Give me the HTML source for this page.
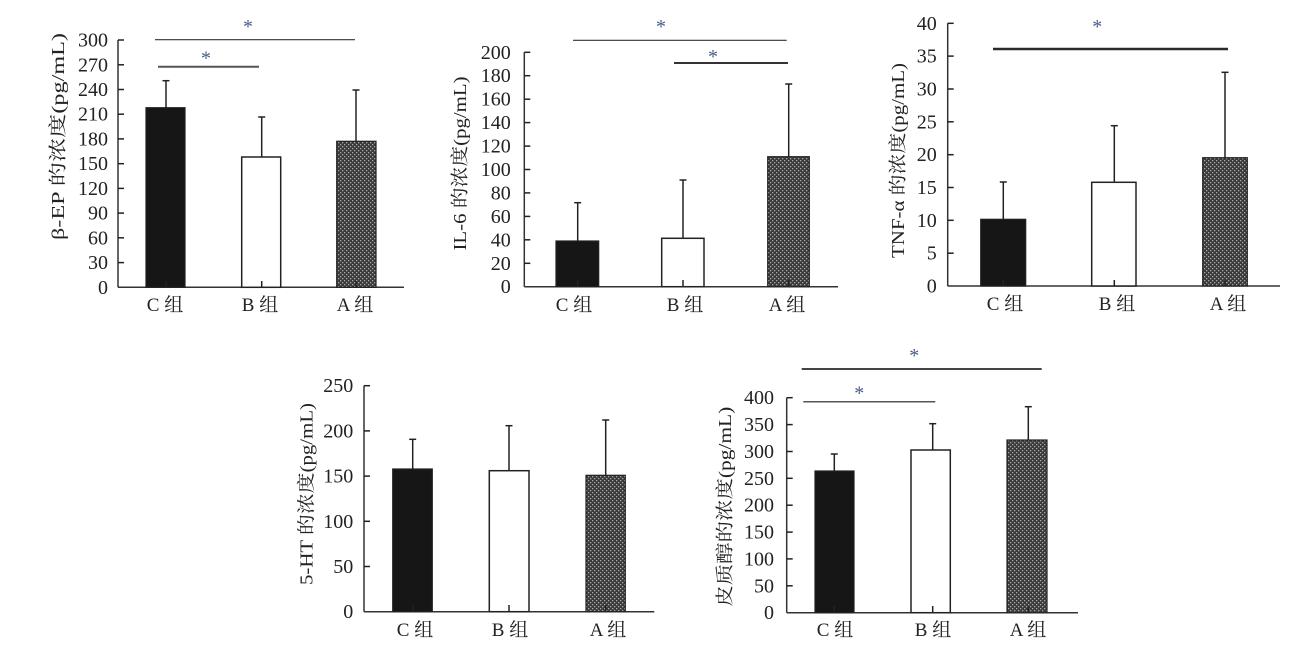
<!DOCTYPE html>
<html><head><meta charset="utf-8"><style>
html,body{margin:0;padding:0;background:#fff;}
svg{display:block;}
text{font-family:"Liberation Serif","Noto Serif CJK SC","Noto Sans CJK SC",serif;fill:#222;}
.t{font-size:20px;text-anchor:end;}
.x{font-size:19px;text-anchor:middle;}
.yt{font-size:18px;text-anchor:middle;dominant-baseline:central;}
.s{font-size:20px;text-anchor:middle;fill:#4a5a8a;}
.ax{stroke:#333;stroke-width:1.5;fill:none;}
.tk{stroke:#222;stroke-width:1.5;}
.eb{stroke:#222;stroke-width:1.5;}
.bc{fill:#161616;stroke:#222;stroke-width:1.2;}
.bb{fill:#fff;stroke:#222;stroke-width:1.5;}
.ba{fill:url(#hp);stroke:#222;stroke-width:1.2;}
</style></head><body>
<svg width="1316" height="652" viewBox="0 0 1316 652" xmlns="http://www.w3.org/2000/svg">
<defs>
<pattern id="hp" width="4" height="4" patternUnits="userSpaceOnUse">
<rect width="4" height="4" fill="#3a3a3a"/>
<rect x="0" y="0" width="1.3" height="1.3" fill="#a8a8a8"/>
<rect x="2" y="2" width="1.3" height="1.3" fill="#a8a8a8"/>
</pattern>
</defs>

<!-- Chart 1 -->
<g>
<line class="ax" x1="118" y1="40" x2="118" y2="287.3"/>
<line class="ax" x1="118" y1="287.3" x2="404" y2="287.3"/>
<g class="tk">
<line x1="118" y1="40" x2="124" y2="40"/><line x1="118" y1="64.8" x2="124" y2="64.8"/><line x1="118" y1="89.5" x2="124" y2="89.5"/><line x1="118" y1="114.2" x2="124" y2="114.2"/><line x1="118" y1="138.9" x2="124" y2="138.9"/><line x1="118" y1="163.7" x2="124" y2="163.7"/><line x1="118" y1="188.4" x2="124" y2="188.4"/><line x1="118" y1="213.1" x2="124" y2="213.1"/><line x1="118" y1="237.8" x2="124" y2="237.8"/><line x1="118" y1="262.6" x2="124" y2="262.6"/>
</g>
<text class="t" x="108" y="46.5">300</text><text class="t" x="108" y="71.3">270</text><text class="t" x="108" y="96">240</text><text class="t" x="108" y="120.7">210</text><text class="t" x="108" y="145.4">180</text><text class="t" x="108" y="170.2">150</text><text class="t" x="108" y="194.9">120</text><text class="t" x="108" y="219.6">90</text><text class="t" x="108" y="244.3">60</text><text class="t" x="108" y="269.1">30</text><text class="t" x="108" y="293.8">0</text>
<text class="yt" transform="translate(58,136.5) rotate(-90)" textLength="207" lengthAdjust="spacingAndGlyphs">β-EP 的浓度(pg/mL)</text>
<rect class="bc" x="146" y="107.7" width="39" height="179.6"/>
<rect class="bb" x="241.7" y="157" width="39" height="130.3"/>
<rect class="ba" x="336.7" y="141.3" width="39.3" height="146"/>
<line class="eb" x1="166" y1="107.7" x2="166" y2="80.7"/><line class="eb" x1="162.5" y1="80.7" x2="169.5" y2="80.7"/>
<line class="eb" x1="261.7" y1="157" x2="261.7" y2="117"/><line class="eb" x1="258.2" y1="117" x2="265.2" y2="117"/>
<line class="eb" x1="356" y1="141.3" x2="356" y2="90"/><line class="eb" x1="352.5" y1="90" x2="359.5" y2="90"/>
<line class="tk" x1="166" y1="281" x2="166" y2="287"/><line class="tk" x1="261.7" y1="281" x2="261.7" y2="287"/><line class="tk" x1="356" y1="281" x2="356" y2="287"/>
<line x1="155" y1="39.7" x2="355" y2="39.7" stroke="#333" stroke-width="1.2"/>
<line x1="158" y1="66.7" x2="259" y2="66.7" stroke="#555" stroke-width="2"/>
<text class="s" x="248" y="33">*</text>
<text class="s" x="206" y="64.6">*</text>
<text class="x" x="165" y="311">C 组</text><text class="x" x="260" y="311">B 组</text><text class="x" x="355" y="311">A 组</text>
</g>

<!-- Chart 2 -->
<g>
<line class="ax" x1="524.3" y1="52.3" x2="524.3" y2="286.7"/>
<line class="ax" x1="524.3" y1="286.7" x2="838" y2="286.7"/>
<g class="tk">
<line x1="524.3" y1="52.3" x2="530.3" y2="52.3"/><line x1="524.3" y1="75.7" x2="530.3" y2="75.7"/><line x1="524.3" y1="99.2" x2="530.3" y2="99.2"/><line x1="524.3" y1="122.6" x2="530.3" y2="122.6"/><line x1="524.3" y1="146.1" x2="530.3" y2="146.1"/><line x1="524.3" y1="169.5" x2="530.3" y2="169.5"/><line x1="524.3" y1="192.9" x2="530.3" y2="192.9"/><line x1="524.3" y1="216.4" x2="530.3" y2="216.4"/><line x1="524.3" y1="239.8" x2="530.3" y2="239.8"/><line x1="524.3" y1="263.3" x2="530.3" y2="263.3"/>
</g>
<text class="t" x="510.7" y="58.8">200</text><text class="t" x="510.7" y="82.2">180</text><text class="t" x="510.7" y="105.7">160</text><text class="t" x="510.7" y="129.1">140</text><text class="t" x="510.7" y="152.6">120</text><text class="t" x="510.7" y="176">100</text><text class="t" x="510.7" y="199.4">80</text><text class="t" x="510.7" y="222.9">60</text><text class="t" x="510.7" y="246.3">40</text><text class="t" x="510.7" y="269.8">20</text><text class="t" x="510.7" y="293.2">0</text>
<text class="yt" transform="translate(460,163.5) rotate(-90)" textLength="174" lengthAdjust="spacingAndGlyphs">IL-6 的浓度(pg/mL)</text>
<rect class="bc" x="556" y="241" width="42.7" height="45.7"/>
<rect class="bb" x="661.7" y="238.3" width="42.3" height="48.4"/>
<rect class="ba" x="767.7" y="156.7" width="41.6" height="130"/>
<line class="eb" x1="577.7" y1="241" x2="577.7" y2="202.7"/><line class="eb" x1="574.2" y1="202.7" x2="581.2" y2="202.7"/>
<line class="eb" x1="683" y1="238.3" x2="683" y2="180"/><line class="eb" x1="679.5" y1="180" x2="686.5" y2="180"/>
<line class="eb" x1="788.7" y1="156.7" x2="788.7" y2="84"/><line class="eb" x1="785.2" y1="84" x2="792.2" y2="84"/>
<line class="tk" x1="577.7" y1="280" x2="577.7" y2="286"/><line class="tk" x1="683" y1="280" x2="683" y2="286"/><line class="tk" x1="788.7" y1="280" x2="788.7" y2="286"/>
<line x1="573" y1="40.3" x2="786.7" y2="40.3" stroke="#333" stroke-width="1.2"/>
<line x1="674" y1="63" x2="788" y2="63" stroke="#333" stroke-width="2"/>
<text class="s" x="661" y="33">*</text>
<text class="s" x="713" y="63">*</text>
<text class="x" x="574" y="311">C 组</text><text class="x" x="685" y="311">B 组</text><text class="x" x="787" y="311">A 组</text>
</g>

<!-- Chart 3 -->
<g>
<line class="ax" x1="947.7" y1="23.3" x2="947.7" y2="286"/>
<line class="ax" x1="947.7" y1="286" x2="1280" y2="286"/>
<g class="tk">
<line x1="947.7" y1="23.3" x2="953.7" y2="23.3"/><line x1="947.7" y1="56.1" x2="953.7" y2="56.1"/><line x1="947.7" y1="89" x2="953.7" y2="89"/><line x1="947.7" y1="121.8" x2="953.7" y2="121.8"/><line x1="947.7" y1="154.7" x2="953.7" y2="154.7"/><line x1="947.7" y1="187.5" x2="953.7" y2="187.5"/><line x1="947.7" y1="220.3" x2="953.7" y2="220.3"/><line x1="947.7" y1="253.2" x2="953.7" y2="253.2"/>
</g>
<text class="t" x="936.7" y="29.8">40</text><text class="t" x="936.7" y="62.6">35</text><text class="t" x="936.7" y="95.5">30</text><text class="t" x="936.7" y="128.3">25</text><text class="t" x="936.7" y="161.2">20</text><text class="t" x="936.7" y="194">15</text><text class="t" x="936.7" y="226.8">10</text><text class="t" x="936.7" y="259.7">5</text><text class="t" x="936.7" y="292.5">0</text>
<text class="yt" transform="translate(898,160.5) rotate(-90)" textLength="195" lengthAdjust="spacingAndGlyphs">TNF-α 的浓度(pg/mL)</text>
<rect class="bc" x="980.7" y="219.3" width="45" height="66.7"/>
<rect class="bb" x="1091.7" y="182.3" width="44.3" height="103.7"/>
<rect class="ba" x="1202.7" y="157.7" width="44.6" height="128.3"/>
<line class="eb" x1="1003.3" y1="219.3" x2="1003.3" y2="182"/><line class="eb" x1="999.8" y1="182" x2="1006.8" y2="182"/>
<line class="eb" x1="1114.3" y1="182.3" x2="1114.3" y2="125.7"/><line class="eb" x1="1110.8" y1="125.7" x2="1117.8" y2="125.7"/>
<line class="eb" x1="1225" y1="157.7" x2="1225" y2="72.3"/><line class="eb" x1="1221.5" y1="72.3" x2="1228.5" y2="72.3"/>
<line class="tk" x1="1003.3" y1="280" x2="1003.3" y2="286"/><line class="tk" x1="1114.3" y1="280" x2="1114.3" y2="286"/><line class="tk" x1="1225" y1="280" x2="1225" y2="286"/>
<line x1="993" y1="49" x2="1228" y2="49" stroke="#2a2a2a" stroke-width="2.5"/>
<text class="s" x="1097.3" y="33">*</text>
<text class="x" x="1005" y="310">C 组</text><text class="x" x="1117" y="310">B 组</text><text class="x" x="1228" y="310">A 组</text>
</g>

<!-- Chart 4 -->
<g>
<line class="ax" x1="364" y1="385.7" x2="364" y2="611.7"/>
<line class="ax" x1="364" y1="611.7" x2="654.3" y2="611.7"/>
<g class="tk">
<line x1="364" y1="385.7" x2="370" y2="385.7"/><line x1="364" y1="430.9" x2="370" y2="430.9"/><line x1="364" y1="476.1" x2="370" y2="476.1"/><line x1="364" y1="521.3" x2="370" y2="521.3"/><line x1="364" y1="566.5" x2="370" y2="566.5"/>
</g>
<text class="t" x="353.3" y="392.2">250</text><text class="t" x="353.3" y="437.4">200</text><text class="t" x="353.3" y="482.6">150</text><text class="t" x="353.3" y="527.8">100</text><text class="t" x="353.3" y="573">50</text><text class="t" x="353.3" y="618.2">0</text>
<text class="yt" transform="translate(306.7,494) rotate(-90)" textLength="182" lengthAdjust="spacingAndGlyphs">5-HT 的浓度(pg/mL)</text>
<rect class="bc" x="392.7" y="469" width="39.6" height="142.7"/>
<rect class="bb" x="489.3" y="470.7" width="39.7" height="141"/>
<rect class="ba" x="586" y="475.3" width="39.3" height="136.4"/>
<line class="eb" x1="412.7" y1="469" x2="412.7" y2="439.3"/><line class="eb" x1="409.2" y1="439.3" x2="416.2" y2="439.3"/>
<line class="eb" x1="509" y1="470.7" x2="509" y2="425.7"/><line class="eb" x1="505.5" y1="425.7" x2="512.5" y2="425.7"/>
<line class="eb" x1="605.7" y1="475.3" x2="605.7" y2="420"/><line class="eb" x1="602.2" y1="420" x2="609.2" y2="420"/>
<line class="tk" x1="412.7" y1="605" x2="412.7" y2="611"/><line class="tk" x1="509" y1="605" x2="509" y2="611"/><line class="tk" x1="605.7" y1="605" x2="605.7" y2="611"/>
<text class="x" x="415" y="636">C 组</text><text class="x" x="510" y="636">B 组</text><text class="x" x="608" y="636">A 组</text>
</g>

<!-- Chart 5 -->
<g>
<line class="ax" x1="786.7" y1="397.7" x2="786.7" y2="612.7"/>
<line class="ax" x1="786.7" y1="612.7" x2="1078" y2="612.7"/>
<g class="tk">
<line x1="786.7" y1="397.7" x2="792.7" y2="397.7"/><line x1="786.7" y1="424.6" x2="792.7" y2="424.6"/><line x1="786.7" y1="451.5" x2="792.7" y2="451.5"/><line x1="786.7" y1="478.3" x2="792.7" y2="478.3"/><line x1="786.7" y1="505.2" x2="792.7" y2="505.2"/><line x1="786.7" y1="532.1" x2="792.7" y2="532.1"/><line x1="786.7" y1="558.9" x2="792.7" y2="558.9"/><line x1="786.7" y1="585.8" x2="792.7" y2="585.8"/>
</g>
<text class="t" x="774" y="404.2">400</text><text class="t" x="774" y="431.1">350</text><text class="t" x="774" y="458">300</text><text class="t" x="774" y="484.8">250</text><text class="t" x="774" y="511.7">200</text><text class="t" x="774" y="538.6">150</text><text class="t" x="774" y="565.4">100</text><text class="t" x="774" y="592.3">50</text><text class="t" x="774" y="619.2">0</text>
<text class="yt" transform="translate(725,506.7) rotate(-90)" textLength="200" lengthAdjust="spacingAndGlyphs">皮质醇的浓度(pg/mL)</text>
<rect class="bc" x="815" y="471" width="39" height="141.7"/>
<rect class="bb" x="911" y="450" width="39.3" height="162.7"/>
<rect class="ba" x="1007" y="440" width="40" height="172.7"/>
<line class="eb" x1="834.3" y1="471" x2="834.3" y2="454"/><line class="eb" x1="830.8" y1="454" x2="837.8" y2="454"/>
<line class="eb" x1="932.7" y1="450" x2="932.7" y2="423.7"/><line class="eb" x1="929.2" y1="423.7" x2="936.2" y2="423.7"/>
<line class="eb" x1="1028.3" y1="440" x2="1028.3" y2="406.7"/><line class="eb" x1="1024.8" y1="406.7" x2="1031.8" y2="406.7"/>
<line class="tk" x1="834.3" y1="606" x2="834.3" y2="612"/><line class="tk" x1="932.7" y1="606" x2="932.7" y2="612"/><line class="tk" x1="1028.3" y1="606" x2="1028.3" y2="612"/>
<line x1="801.7" y1="369" x2="1041.7" y2="369" stroke="#444" stroke-width="2"/>
<line x1="803.3" y1="401.7" x2="935.3" y2="401.7" stroke="#555" stroke-width="1.5"/>
<text class="s" x="914.3" y="362">*</text>
<text class="s" x="859.3" y="399.3">*</text>
<text class="x" x="835" y="636">C 组</text><text class="x" x="933" y="636">B 组</text><text class="x" x="1028" y="636">A 组</text>
</g>
</svg>
</body></html>
